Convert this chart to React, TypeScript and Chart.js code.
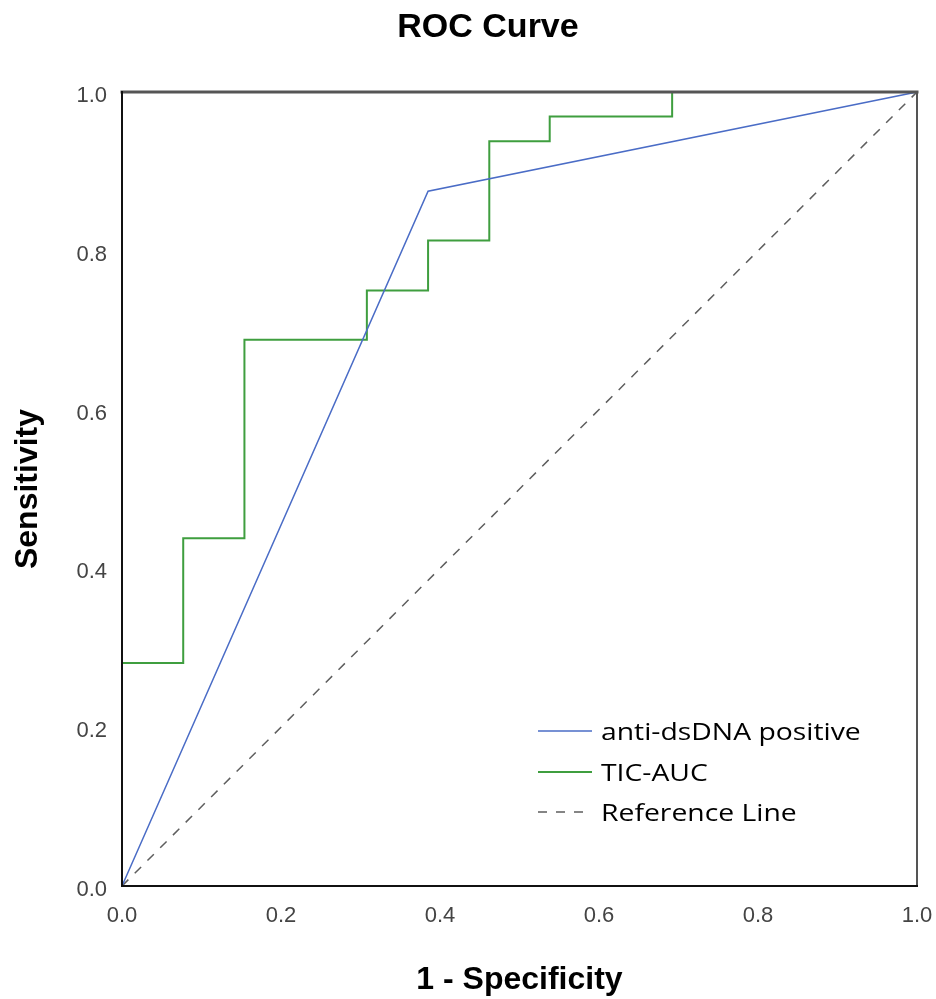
import React, { useEffect, useRef } from "react";
import { Chart, registerables } from "chart.js";

Chart.register(...registerables);

const chartTitle = "ROC Curve";
const xAxisTitle = "1 - Specificity";
const yAxisTitle = "Sensitivity";
const tickValues = [0, 0.2, 0.4, 0.6, 0.8, 1.0];

const seriesNames = ["anti-dsDNA positive", "TIC-AUC", "Reference Line"];

// anti-dsDNA positive ROC points
const antiFpr = [0, 0.385, 1];
const antiTpr = [0, 0.875, 1];

// TIC-AUC ROC step points
const ticFpr = [0, 0, 0.077, 0.077, 0.154, 0.154, 0.308, 0.308, 0.385, 0.385, 0.462, 0.462, 0.538, 0.538, 0.692, 0.692, 1];
const ticTpr = [0, 0.281, 0.281, 0.438, 0.438, 0.688, 0.688, 0.75, 0.75, 0.813, 0.813, 0.938, 0.938, 0.969, 0.969, 1, 1];

// reference diagonal
const refFpr = [0, 1];
const refTpr = [0, 1];

const BLUE = "#4a6cc6";
const GREEN = "#3f9e3f";
const GRAY = "#5e5e5e";

const toPoints = (xs: number[], ys: number[]) => xs.map((x, i) => ({ x, y: ys[i] }));

const decorPlugin = {
  id: "decor",
  afterDatasetsDraw(chart: any) {
    const { ctx, chartArea } = chart;
    const { left, right, top, bottom } = chartArea;
    ctx.save();
    ctx.lineCap = "square";
    ctx.strokeStyle = "#555555";
    ctx.lineWidth = 3;
    ctx.beginPath();
    ctx.moveTo(left, top);
    ctx.lineTo(right, top);
    ctx.stroke();
    ctx.lineWidth = 2;
    ctx.beginPath();
    ctx.moveTo(right, top);
    ctx.lineTo(right, bottom);
    ctx.stroke();
    ctx.strokeStyle = "#111111";
    ctx.beginPath();
    ctx.moveTo(left, top);
    ctx.lineTo(left, bottom);
    ctx.lineTo(right, bottom);
    ctx.stroke();
    ctx.restore();
  },
  afterDraw(chart: any) {
    const { ctx } = chart;
    ctx.save();
    ctx.fillStyle = "#000";
    ctx.font = "bold 34px 'Liberation Sans', Arial, sans-serif";
    ctx.textAlign = "center";
    ctx.textBaseline = "alphabetic";
    ctx.fillText(chartTitle, 488, 37);

    const lx0 = 538;
    const lx1 = 592;
    const rows = [731, 772, 812];
    const styles = [
      { color: BLUE, width: 1.5, dash: [] as number[] },
      { color: GREEN, width: 2, dash: [] as number[] },
      { color: GRAY, width: 1.5, dash: [9, 9] },
    ];
    rows.forEach((y, i) => {
      const s = styles[i];
      ctx.strokeStyle = s.color;
      ctx.lineWidth = s.width;
      ctx.setLineDash(s.dash);
      ctx.beginPath();
      ctx.moveTo(lx0, y);
      ctx.lineTo(lx1, y);
      ctx.stroke();
      ctx.setLineDash([]);
      ctx.save();
      ctx.translate(601, y + 9);
      ctx.scale(1.18, 1);
      ctx.fillStyle = "#000";
      ctx.font = "500 24px 'Open Sans', 'Noto Sans', sans-serif";
      ctx.textAlign = "left";
      ctx.textBaseline = "alphabetic";
      ctx.fillText(seriesNames[i], 0, 0);
      ctx.restore();
    });
    ctx.restore();
  },
};

export default function App() {
  const canvasRef = useRef<HTMLCanvasElement | null>(null);

  useEffect(() => {
    if (!canvasRef.current) return;
    const tickFont = { family: "'Liberation Sans', Arial, sans-serif", size: 22 };
    const titleFont = { family: "'Liberation Sans', Arial, sans-serif", size: 32, weight: "bold" as const };
    const chart = new Chart(canvasRef.current, {
      type: "line",
      data: {
        datasets: [
          {
            label: seriesNames[0],
            data: toPoints(antiFpr, antiTpr),
            borderColor: BLUE,
            borderWidth: 1.5,
            pointRadius: 0,
            fill: false,
            tension: 0,
            clip: false as any,
          },
          {
            label: seriesNames[1],
            data: toPoints(ticFpr, ticTpr),
            borderColor: GREEN,
            borderWidth: 2,
            pointRadius: 0,
            fill: false,
            tension: 0,
            clip: false as any,
          },
          {
            label: seriesNames[2],
            data: toPoints(refFpr, refTpr),
            borderColor: GRAY,
            borderWidth: 1.5,
            borderDash: [9, 9],
            pointRadius: 0,
            fill: false,
            tension: 0,
            clip: false as any,
          },
        ],
      },
      options: {
        responsive: false,
        animation: false,
        events: [],
        layout: { padding: { top: 92, right: 19, left: 0, bottom: 0 } },
        plugins: {
          legend: { display: false },
          title: { display: false },
          tooltip: { enabled: false },
        },
        scales: {
          x: {
            type: "linear",
            min: 0,
            max: 1,
            afterFit: (s: any) => {
              s.height = 113;
              s.paddingLeft = 0;
              s.paddingRight = 0;
            },
            afterBuildTicks: (s: any) => {
              s.ticks = tickValues.map((v) => ({ value: v }));
            },
            ticks: {
              font: tickFont,
              color: "#444444",
              padding: 17,
              maxRotation: 0,
              callback: (v: any) => Number(v).toFixed(1),
            },
            grid: { display: false, drawTicks: false },
            border: { display: false },
            title: {
              display: true,
              text: xAxisTitle,
              font: titleFont,
              color: "#000",
              padding: { top: 0, bottom: 0 },
            },
          },
          y: {
            type: "linear",
            min: 0,
            max: 1,
            afterFit: (s: any) => {
              s.width = 122;
              s.paddingTop = 0;
              s.paddingBottom = 0;
            },
            afterBuildTicks: (s: any) => {
              s.ticks = tickValues.map((v) => ({ value: v }));
            },
            ticks: {
              font: tickFont,
              color: "#444444",
              padding: 15,
              labelOffset: 4,
              callback: (v: any) => Number(v).toFixed(1),
            },
            grid: { display: false, drawTicks: false },
            border: { display: false },
            title: {
              display: true,
              text: yAxisTitle,
              font: titleFont,
              color: "#000",
              padding: { top: 9, bottom: 0 },
            },
          },
        },
      },
      plugins: [decorPlugin],
    });
    return () => chart.destroy();
  }, []);

  return (
    <div style={{ position: "absolute", left: 0, top: 0, width: 936, height: 999, background: "#fff" }}>
      <canvas ref={canvasRef} width={936} height={999} style={{ display: "block" }} />
    </div>
  );
}
